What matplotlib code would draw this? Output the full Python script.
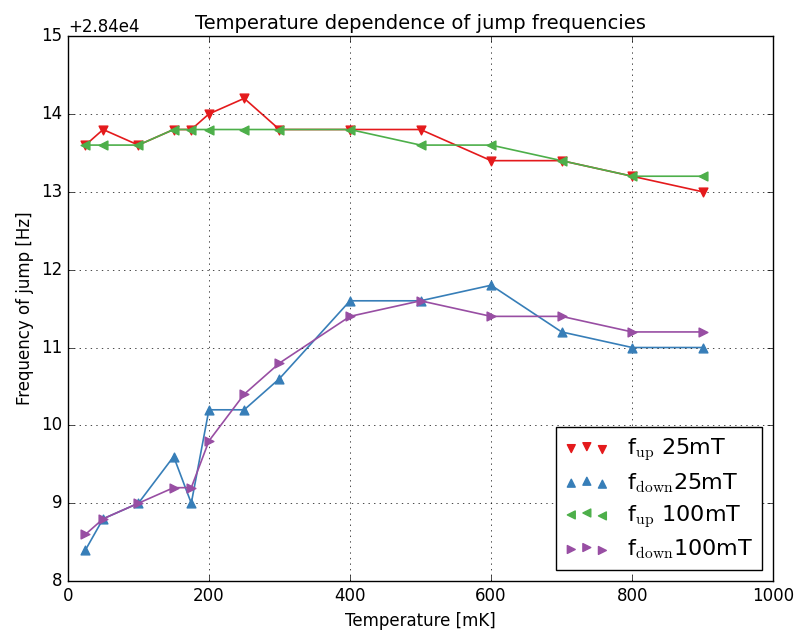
import numpy as np
import matplotlib
matplotlib.use("Agg")
import matplotlib.pyplot as plt

plt.style.use("classic")

temps = [25, 50, 100, 150, 175, 200, 250, 300, 400, 500, 600, 700, 800, 900]
base = 28400
# offsets from 2.84e4 Hz
up_25 = [13.6, 13.8, 13.6, 13.8, 13.8, 14.0, 14.2, 13.8, 13.8, 13.8, 13.4, 13.4, 13.2, 13.0]
down_25 = [8.4, 8.8, 9.0, 9.6, 9.0, 10.2, 10.2, 10.6, 11.6, 11.6, 11.8, 11.2, 11.0, 11.0]
up_100 = [13.6, 13.6, 13.6, 13.8, 13.8, 13.8, 13.8, 13.8, 13.8, 13.6, 13.6, 13.4, 13.2, 13.2]
down_100 = [8.6, 8.8, 9.0, 9.2, 9.2, 9.8, 10.4, 10.8, 11.4, 11.6, 11.4, 11.4, 11.2, 11.2]

series = [
    (up_25, "v", "#e41a1c", r"f$_{\rm up}$ 25mT"),
    (down_25, "^", "#377eb8", r"f$_{\rm down}$25mT"),
    (up_100, "<", "#4daf4a", r"f$_{\rm up}$ 100mT"),
    (down_100, ">", "#984ea3", r"f$_{\rm down}$100mT"),
]

fig = plt.figure(figsize=(7.98, 6.33), dpi=100)
ax = fig.add_axes([0.085, 0.082, 0.884, 0.861])

for vals, m, c, lab in series:
    y = base + np.array(vals)
    ax.plot(temps, y, "-", color=c, lw=1.2)
    ax.scatter(temps, y, marker=m, color=c, edgecolor=c, s=40, label=lab, zorder=3)

ax.set_xlim(0, 1000)
ax.set_ylim(base + 8, base + 15)
ax.yaxis.get_major_formatter().set_useOffset(base)
ax.grid(True)
ax.set_xlabel("Temperature [mK]")
ax.set_ylabel("Frequency of jump [Hz]")
ax.set_title("Temperature dependence of jump frequencies", fontsize=14)
ax.legend(loc="lower right", scatterpoints=3, fontsize=16, markerscale=0.9,
          labelspacing=0.35)

fig.savefig("out.png", dpi=100)
